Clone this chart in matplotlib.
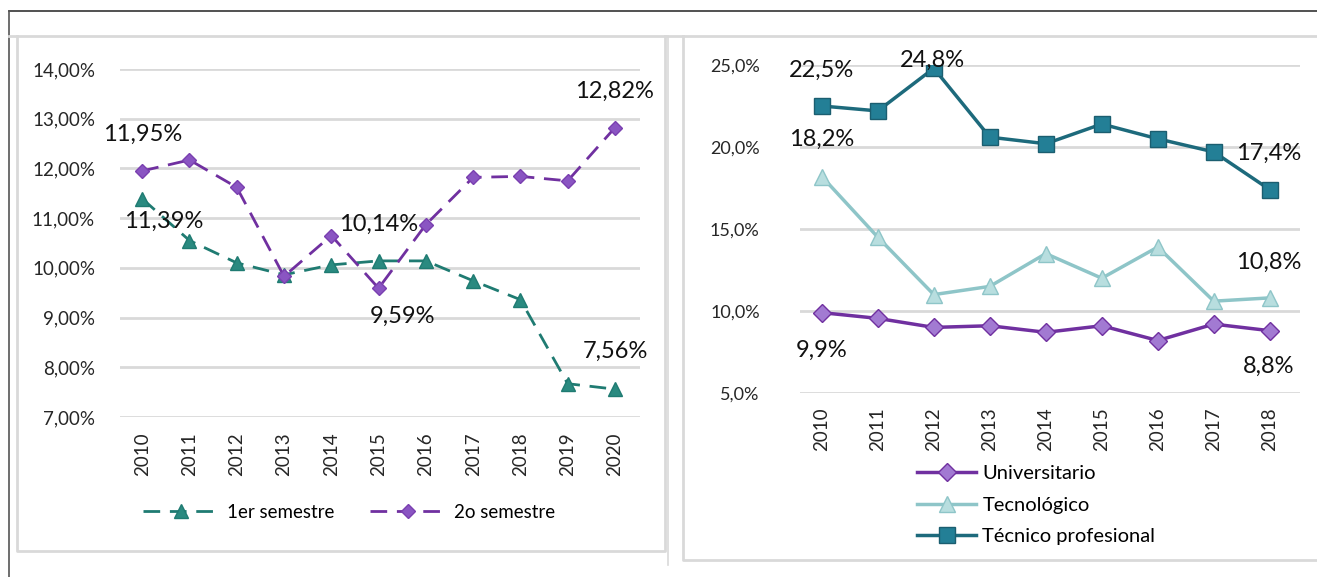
import numpy as np
import matplotlib
matplotlib.use('Agg')
import matplotlib.pyplot as plt
from matplotlib.lines import Line2D

plt.rcParams['font.family'] = ['Lato', 'DejaVu Sans']

# left chart data
years_l = ['2010', '2011', '2012', '2013', '2014', '2015', '2016', '2017', '2018', '2019', '2020']
sem1 = [11.39, 10.55, 10.10, 9.86, 10.06, 10.14, 10.14, 9.74, 9.36, 7.67, 7.56]
sem2 = [11.95, 12.17, 11.62, 9.83, 10.65, 9.59, 10.87, 11.82, 11.84, 11.75, 12.82]
yticks_l = [7, 8, 9, 10, 11, 12, 13, 14]

# right chart data
years_r = ['2010', '2011', '2012', '2013', '2014', '2015', '2016', '2017', '2018']
univ = [9.9, 9.55, 9.0, 9.1, 8.7, 9.1, 8.2, 9.2, 8.8]
tecno = [18.2, 14.5, 11.0, 11.5, 13.5, 12.0, 13.9, 10.6, 10.8]
tecprof = [22.5, 22.2, 24.8, 20.6, 20.2, 21.4, 20.5, 19.7, 17.4]
yticks_r = [5, 10, 15, 20, 25]

W, H = 1317, 577
fig = plt.figure(figsize=(W / 100, H / 100), dpi=100)


def fx(px):
    return px / W


def fy(py):
    return 1 - py / H


# frame lines
fig.add_artist(Line2D([fx(9), fx(W)], [fy(11), fy(11)], color='#333333', lw=1.2))
fig.add_artist(Line2D([fx(9), fx(9)], [fy(11), fy(H)], color='#555555', lw=1.2))
fig.add_artist(Line2D([fx(9), fx(W)], [fy(36), fy(36)], color='#d9d9d9', lw=2))
fig.add_artist(Line2D([fx(17), fx(17), fx(665), fx(665)], [fy(36), fy(551), fy(551), fy(36)], color='#d9d9d9', lw=2))
fig.add_artist(Line2D([fx(668), fx(668)], [fy(36), fy(565)], color='#d9d9d9', lw=1.2))
fig.add_artist(Line2D([fx(683), fx(683), fx(W)], [fy(36), fy(560), fy(560)], color='#d9d9d9', lw=2))

tick_color = '#262626'

# ---------- left chart ----------
axl = fig.add_axes([fx(120), fy(417), fx(640) - fx(120), fy(69) - fy(417)])
x = np.arange(len(years_l))
c1 = '#1f7b72'
c2 = '#7030a0'
axl.plot(x, sem1, color=c1, lw=2, linestyle=(0, (6, 3.5)), marker='^', markersize=10,
         markerfacecolor='#2a8a80', markeredgecolor=c1, label='1er semestre')
axl.plot(x, sem2, color=c2, lw=2, linestyle=(0, (6, 3.5)), marker='D', markersize=7.5,
         markerfacecolor='#8a55c2', markeredgecolor='#7a3fb0', label='2o semestre')
axl.set_xlim(-0.47, 10.53)
axl.set_ylim(7, 14)
axl.set_yticks(yticks_l)
axl.set_yticklabels(['%d,00%%' % v for v in yticks_l])
axl.set_xticks(x)
axl.set_xticklabels(years_l, rotation=90)
axl.grid(axis='y', color='#d9d9d9', lw=2)
axl.set_axisbelow(True)
for s in axl.spines.values():
    s.set_visible(False)
axl.tick_params(axis='both', length=0, labelsize=13.5, colors=tick_color)
axl.tick_params(axis='y', pad=18)
axl.tick_params(axis='x', pad=11)

ann_l = [(0, sem2[0], '11,95%', 0, 37), (0, sem1[0], '11,39%', 21, -23),
         (5, sem1[5], '10,14%', 0, 37), (5, sem2[5], '9,59%', 24, -28),
         (10, sem2[10], '12,82%', 0, 36), (10, sem1[10], '7,56%', 0, 38)]
for xi, yi, txt, dx, dy in ann_l:
    axl.annotate(txt, (xi, yi), xytext=(dx, dy), textcoords='offset pixels',
                 ha='center', va='center', fontsize=17, color='#111111')

axl.legend(loc='center', bbox_to_anchor=(fx(349), fy(512)), bbox_transform=fig.transFigure,
           ncol=2, frameon=False, fontsize=13.5, handlelength=4.1, handletextpad=0.4,
           columnspacing=1.9)

# ---------- right chart ----------
axr = fig.add_axes([fx(800), fy(393), fx(1300) - fx(800), fy(65) - fy(393)])
xr = np.arange(len(years_r))
axr.plot(xr, univ, color='#7030a0', lw=2.5, marker='D', markersize=9,
         markerfacecolor='#a27ad2', markeredgecolor='#7030a0', label='Universitario')
axr.plot(xr, tecno, color='#8ec5c8', lw=2.5, marker='^', markersize=11,
         markerfacecolor='#b8dedf', markeredgecolor='#8ec5c8', label='Tecnológico')
axr.plot(xr, tecprof, color='#1d6a7c', lw=2.5, marker='s', markersize=11,
         markerfacecolor='#237f96', markeredgecolor='#1b5e70', label='Técnico profesional')
axr.set_xlim(-0.39, 8.54)
axr.set_ylim(5, 25)
axr.set_yticks(yticks_r)
axr.set_yticklabels(['%d,0%%' % v for v in yticks_r])
axr.set_xticks(xr)
axr.set_xticklabels(years_r, rotation=90)
axr.grid(axis='y', color='#d9d9d9', lw=2)
axr.set_axisbelow(True)
for s in axr.spines.values():
    s.set_visible(False)
axr.tick_params(axis='both', length=0, labelsize=13, colors=tick_color)
axr.tick_params(axis='x', labelsize=13.5)
axr.tick_params(axis='y', pad=29)
axr.tick_params(axis='x', pad=10)

ann_r = [(0, tecprof[0], '22,5%', 0, 36), (2, tecprof[2], '24,8%', -1, 8),
         (0, tecno[0], '18,2%', 0, 37), (8, tecprof[8], '17,4%', -1, 36),
         (8, tecno[8], '10,8%', -1, 36), (0, univ[0], '9,9%', 0, -38),
         (8, univ[8], '8,8%', -1, -36)]
for xi, yi, txt, dx, dy in ann_r:
    axr.annotate(txt, (xi, yi), xytext=(dx, dy), textcoords='offset pixels',
                 ha='center', va='center', fontsize=17, color='#111111')

axr.legend(loc='upper left', bbox_to_anchor=(fx(917), fy(465)), bbox_transform=fig.transFigure,
           ncol=1, frameon=False, fontsize=14.5, handlelength=2.95, handletextpad=0.3,
           labelspacing=0.72, borderpad=0, borderaxespad=0)

fig.savefig('out.png', dpi=100)
